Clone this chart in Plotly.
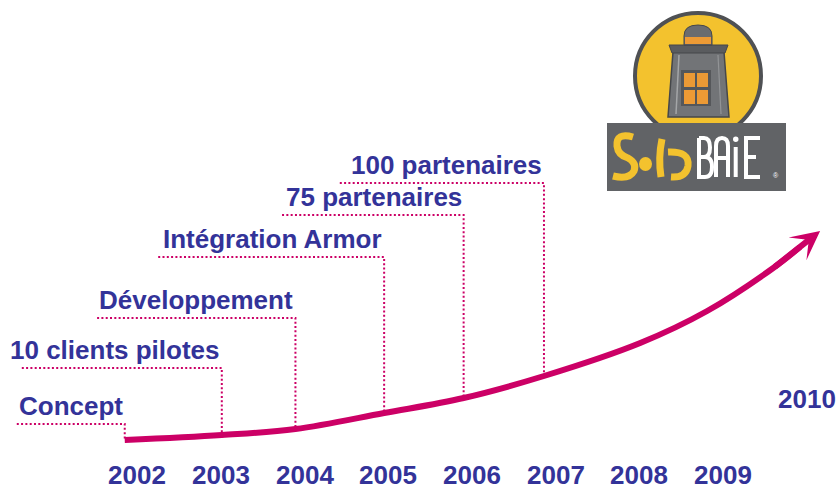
import plotly.graph_objects as go

# ---------------- data ----------------
milestone_labels = ["Concept", "10 clients pilotes", "Développement",
                    "Intégration Armor", "75 partenaires", "100 partenaires"]
milestone_x = [2001.85, 2003.01, 2003.89, 2004.95, 2005.90, 2006.86]   # where each milestone meets the curve
milestone_level = [16, 72, 122, 183, 225, 257]                        # height of each label's leader line
leader_start = [2000.56, 2000.62, 2001.52, 2002.25, 2003.73, 2004.42]  # left end of each leader line

curve_x = [2001.85, 2003.01, 2003.89, 2004.95, 2005.90, 2006.86, 2008.01, 2008.81, 2009.60, 2009.92]
curve_y = [0, 5, 11, 27, 42, 64, 97, 129, 172, 193]
arrow_tip_x = 2010.16
arrow_tip_y = 209

years = [2002, 2003, 2004, 2005, 2006, 2007, 2008, 2009]
year_label_level = -35
final_year = 2010
final_year_level = 41

# ---------------- style ----------------
BLUE = "#333399"
MAGENTA = "#CC0066"
FONT = "Liberation Sans, Arial, sans-serif"

W, H = 838, 491
PX0, PX_PER_YEAR = 472, 83.68          # horizontal scale of the time axis
x_range = [2006 - PX0 / PX_PER_YEAR, 2006 + (W - PX0) / PX_PER_YEAR]
y_range = [-51, 440]

fig = go.Figure()

# leader lines (dotted) from each label down to the curve
curve_at = dict(zip(curve_x, curve_y))
for lab, mx, lvl, sx in zip(milestone_labels, milestone_x, milestone_level, leader_start):
    fig.add_trace(go.Scatter(
        x=[sx, mx, mx], y=[lvl, lvl, curve_at[mx]], mode="lines",
        line=dict(color=MAGENTA, width=2, dash="2px,2.3px"),
        hoverinfo="skip", showlegend=False))

# growth curve
fig.add_trace(go.Scatter(
    x=curve_x, y=curve_y, mode="lines",
    line=dict(color=MAGENTA, width=6, shape="spline", smoothing=1.0),
    hoverinfo="skip", showlegend=False))

annotations = []
# arrow head at the end of the curve
annotations.append(dict(
    x=arrow_tip_x, y=arrow_tip_y, ax=curve_x[-2], ay=curve_y[-2],
    xref="x", yref="y", axref="x", ayref="y", text="", showarrow=True,
    arrowhead=3, arrowwidth=6, arrowsize=0.8, arrowcolor=MAGENTA))

# milestone labels
for lab, mx, lvl in zip(milestone_labels, milestone_x, milestone_level):
    annotations.append(dict(
        x=mx, y=lvl, xref="x", yref="y", text=lab, showarrow=False,
        xanchor="right", yanchor="middle", yshift=18,
        font=dict(family=FONT, size=26, color=BLUE, weight="bold")))

# year labels
for yr in years:
    annotations.append(dict(
        x=yr, y=year_label_level, xref="x", yref="y", text=str(yr), showarrow=False,
        xanchor="center", yanchor="middle", borderpad=0,
        font=dict(family=FONT, size=26, color=BLUE, weight="bold")))
annotations.append(dict(
    x=final_year, y=final_year_level, xref="x", yref="y", text=str(final_year), showarrow=False,
    xanchor="center", yanchor="middle",
    font=dict(family=FONT, size=26, color=BLUE, weight="bold")))

# ---------------- logo (decoration, drawn on a pixel overlay) ----------------
fig.add_trace(go.Scatter(x=[0], y=[0], xaxis="x2", yaxis="y2", mode="markers",
                         marker=dict(opacity=0), hoverinfo="skip", showlegend=False))

YEL = "#F3C22E"
DGRAY = "#4F5154"
GRAY = "#616366"
ORANGE = "#EC9A35"
shapes = []
def S(**kw):
    d = dict(xref="x2", yref="y2", layer="above")
    d.update(kw)
    shapes.append(d)

S(type="circle", x0=635, x1=761, y0=13, y1=139, fillcolor=YEL, line=dict(color=DGRAY, width=4))
# tower
S(type="path", path="M673,52 L724,52 L729,117 L668,117 Z", fillcolor="#727477", line=dict(color="#45474A", width=1.5))
S(type="path", path="M679,55 L676,114", line=dict(color="#A4A6A8", width=1.5))
S(type="path", path="M718,55 L721,114", line=dict(color="#929496", width=1.2))
S(type="path", path="M669,45 L728,45 L725,53 L672,53 Z", fillcolor="#5A5C5F", line=dict(color="#45474A", width=1))
S(type="path", path="M684,45 L684,36 Q684,25 698,25 Q712,25 712,36 L712,45 Z", fillcolor="#6A6C6F", line=dict(color="#45474A", width=1))
S(type="rect", x0=685, x1=711, y0=37, y1=44, fillcolor=ORANGE, line=dict(width=0))
# window
S(type="rect", x0=681, x1=711, y0=70, y1=106, fillcolor="#55575A", line=dict(width=0))
for (x0, x1) in [(684, 695), (697, 708)]:
    for (y0, y1) in [(73, 87), (90, 104)]:
        S(type="rect", x0=x0, x1=x1, y0=y0, y1=y1, fillcolor=ORANGE, line=dict(width=0))
# name plate
S(type="rect", x0=607, x1=786, y0=123, y1=191, fillcolor=GRAY, line=dict(width=0))
# "Sola" brush strokes
S(type="path", path="M633,137 Q616,132 617,146 Q618,155 628,158 Q637,163 634,171 Q629,180 613,176",
  line=dict(color=YEL, width=7))
S(type="circle", x0=639, x1=652, y0=157, y1=171, fillcolor=YEL, line=dict(width=0))
S(type="path", path="M662,139 Q658,158 661,177", line=dict(color=YEL, width=7))
S(type="path", path="M668,152 Q690,151 688,166 Q686,178 671,177", line=dict(color=YEL, width=7))
# "BAiE" thin white letters
WL = dict(color="white", width=4)
S(type="path", path="M699,138 L699,177 L705,177 Q712,177 712,167 Q712,157 705,157 L699,157 "
                    "M699,157 L704,157 Q710,157 710,147.5 Q710,138 704,138 L699,138", line=WL)
S(type="path", path="M716,177 L716,146 Q716,138 722,138 Q728,138 728,146 L728,177 M716,158 L728,158", line=WL)
S(type="circle", x0=733, x1=738.5, y0=136.5, y1=142, fillcolor="white", line=dict(width=0))
S(type="path", path="M735.7,147 L735.7,177", line=WL)
S(type="path", path="M760,138 L746,138 L746,177 L760,177 M746,157 L756,157", line=WL)
annotations.append(dict(x=776, y=175, xref="x2", yref="y2", text="®", showarrow=False,
                        font=dict(family=FONT, size=7, color="white")))

fig.update_layout(
    width=W, height=H,
    margin=dict(l=0, r=0, t=0, b=0),
    paper_bgcolor="white", plot_bgcolor="white",
    showlegend=False,
    xaxis=dict(range=x_range, visible=False, fixedrange=True),
    yaxis=dict(range=y_range, visible=False, fixedrange=True),
    xaxis2=dict(range=[0, W], overlaying="x", visible=False, anchor="y2", fixedrange=True),
    yaxis2=dict(range=[H, 0], overlaying="y", visible=False, anchor="x2", fixedrange=True),
    annotations=annotations,
    shapes=shapes,
)

fig.write_html("out.html", config={"displayModeBar": False},
               post_script="document.body.style.margin='0px';document.body.style.overflow='hidden';")
